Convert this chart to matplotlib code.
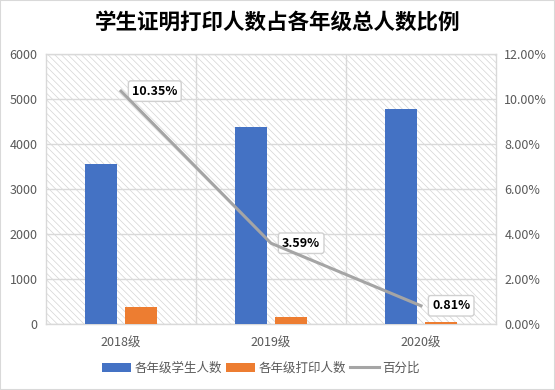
import numpy as np
import matplotlib
matplotlib.use('Agg')
import matplotlib.pyplot as plt
from matplotlib.patches import Rectangle

plt.rcParams['font.family'] = ['Noto Sans CJK SC', 'DejaVu Sans']
plt.rcParams['hatch.linewidth'] = 0.5

grades = ['2018级', '2019级', '2020级']
students = [3556, 4375, 4778]
printed = [368, 157, 39]
ratio = [0.1035, 0.0359, 0.0081]
ratio_labels = ['10.35%', '3.59%', '0.81%']

blue = '#4472C4'
orange = '#ED7D31'
gray_line = '#A5A5A5'
grid_c = '#d9d9d9'
text_c = '#595959'

fig = plt.figure(figsize=(5.55, 3.9), dpi=100)
ax = fig.add_axes([46 / 555, 1 - 324 / 390, 450 / 555, 270 / 390])

# hatched plot background
ax.patch.set_facecolor('white')
ax.patch.set_hatch('\\\\\\\\\\')
ax.patch.set_edgecolor('#d4d4d4')
ax.patch.set_linewidth(0)

x = np.arange(len(grades))
w = 0.213
ax.bar(x - 0.133, students, w, color=blue, label='各年级学生人数', zorder=3)
ax.bar(x + 0.133, printed, w, color=orange, label='各年级打印人数', zorder=3)

ax.set_xlim(-0.5, 2.5)
ax.set_ylim(0, 6000)
ax.set_yticks(range(0, 6001, 1000))
ax.set_xticks(x)
ax.set_xticklabels(grades)
ax.set_xticks([0.5, 1.5], minor=True)
ax.grid(axis='y', color=grid_c, linewidth=1, zorder=1)
ax.grid(axis='x', which='minor', color=grid_c, linewidth=1, zorder=1)
ax.tick_params(axis='both', which='both', length=0, colors=text_c, labelsize=9)
ax.tick_params(axis='x', pad=9)
ax.tick_params(axis='y', pad=6)
for s in ax.spines.values():
    s.set_color(grid_c)
    s.set_linewidth(1)

ax2 = ax.twinx()
ax2.plot(x, ratio, color=gray_line, linewidth=2.2, label='百分比', zorder=4)
ax2.set_ylim(0, 0.12)
ax2.set_yticks(np.arange(0, 0.1201, 0.02))
ax2.set_yticklabels(['%.2f%%' % (v * 100) for v in np.arange(0, 0.1201, 0.02)])
ax2.tick_params(axis='y', length=0, colors=text_c, labelsize=9, pad=6)
for s in ax2.spines.values():
    s.set_visible(False)

for xi, r, lab in zip(x, ratio, ratio_labels):
    ax2.annotate(lab, (xi, r), xytext=(8, 0), textcoords='offset points',
                 ha='left', va='center', fontsize=9, fontweight='bold', color='black',
                 bbox=dict(boxstyle='round,pad=0.3,rounding_size=0.2', fc='white', ec='#d0d0d0', lw=1))

h1, l1 = ax.get_legend_handles_labels()
h2, l2 = ax2.get_legend_handles_labels()
fig.legend(h1 + h2, l1 + l2, loc='center', bbox_to_anchor=(261 / 555, 1 - 368 / 390), ncol=3,
           frameon=False, fontsize=9, labelcolor=text_c, handlelength=2.3, handleheight=0.7,
           columnspacing=0.3, handletextpad=0.3)

fig.text(0.5, 1 - 22 / 390, '学生证明打印人数占各年级总人数比例', ha='center', va='center',
         fontsize=15.5, fontweight='bold', color='black')

fig.patches.append(Rectangle((0, 0), 1, 1, transform=fig.transFigure, fill=False,
                             edgecolor=grid_c, linewidth=1.5))

fig.savefig('out.png', dpi=100)
